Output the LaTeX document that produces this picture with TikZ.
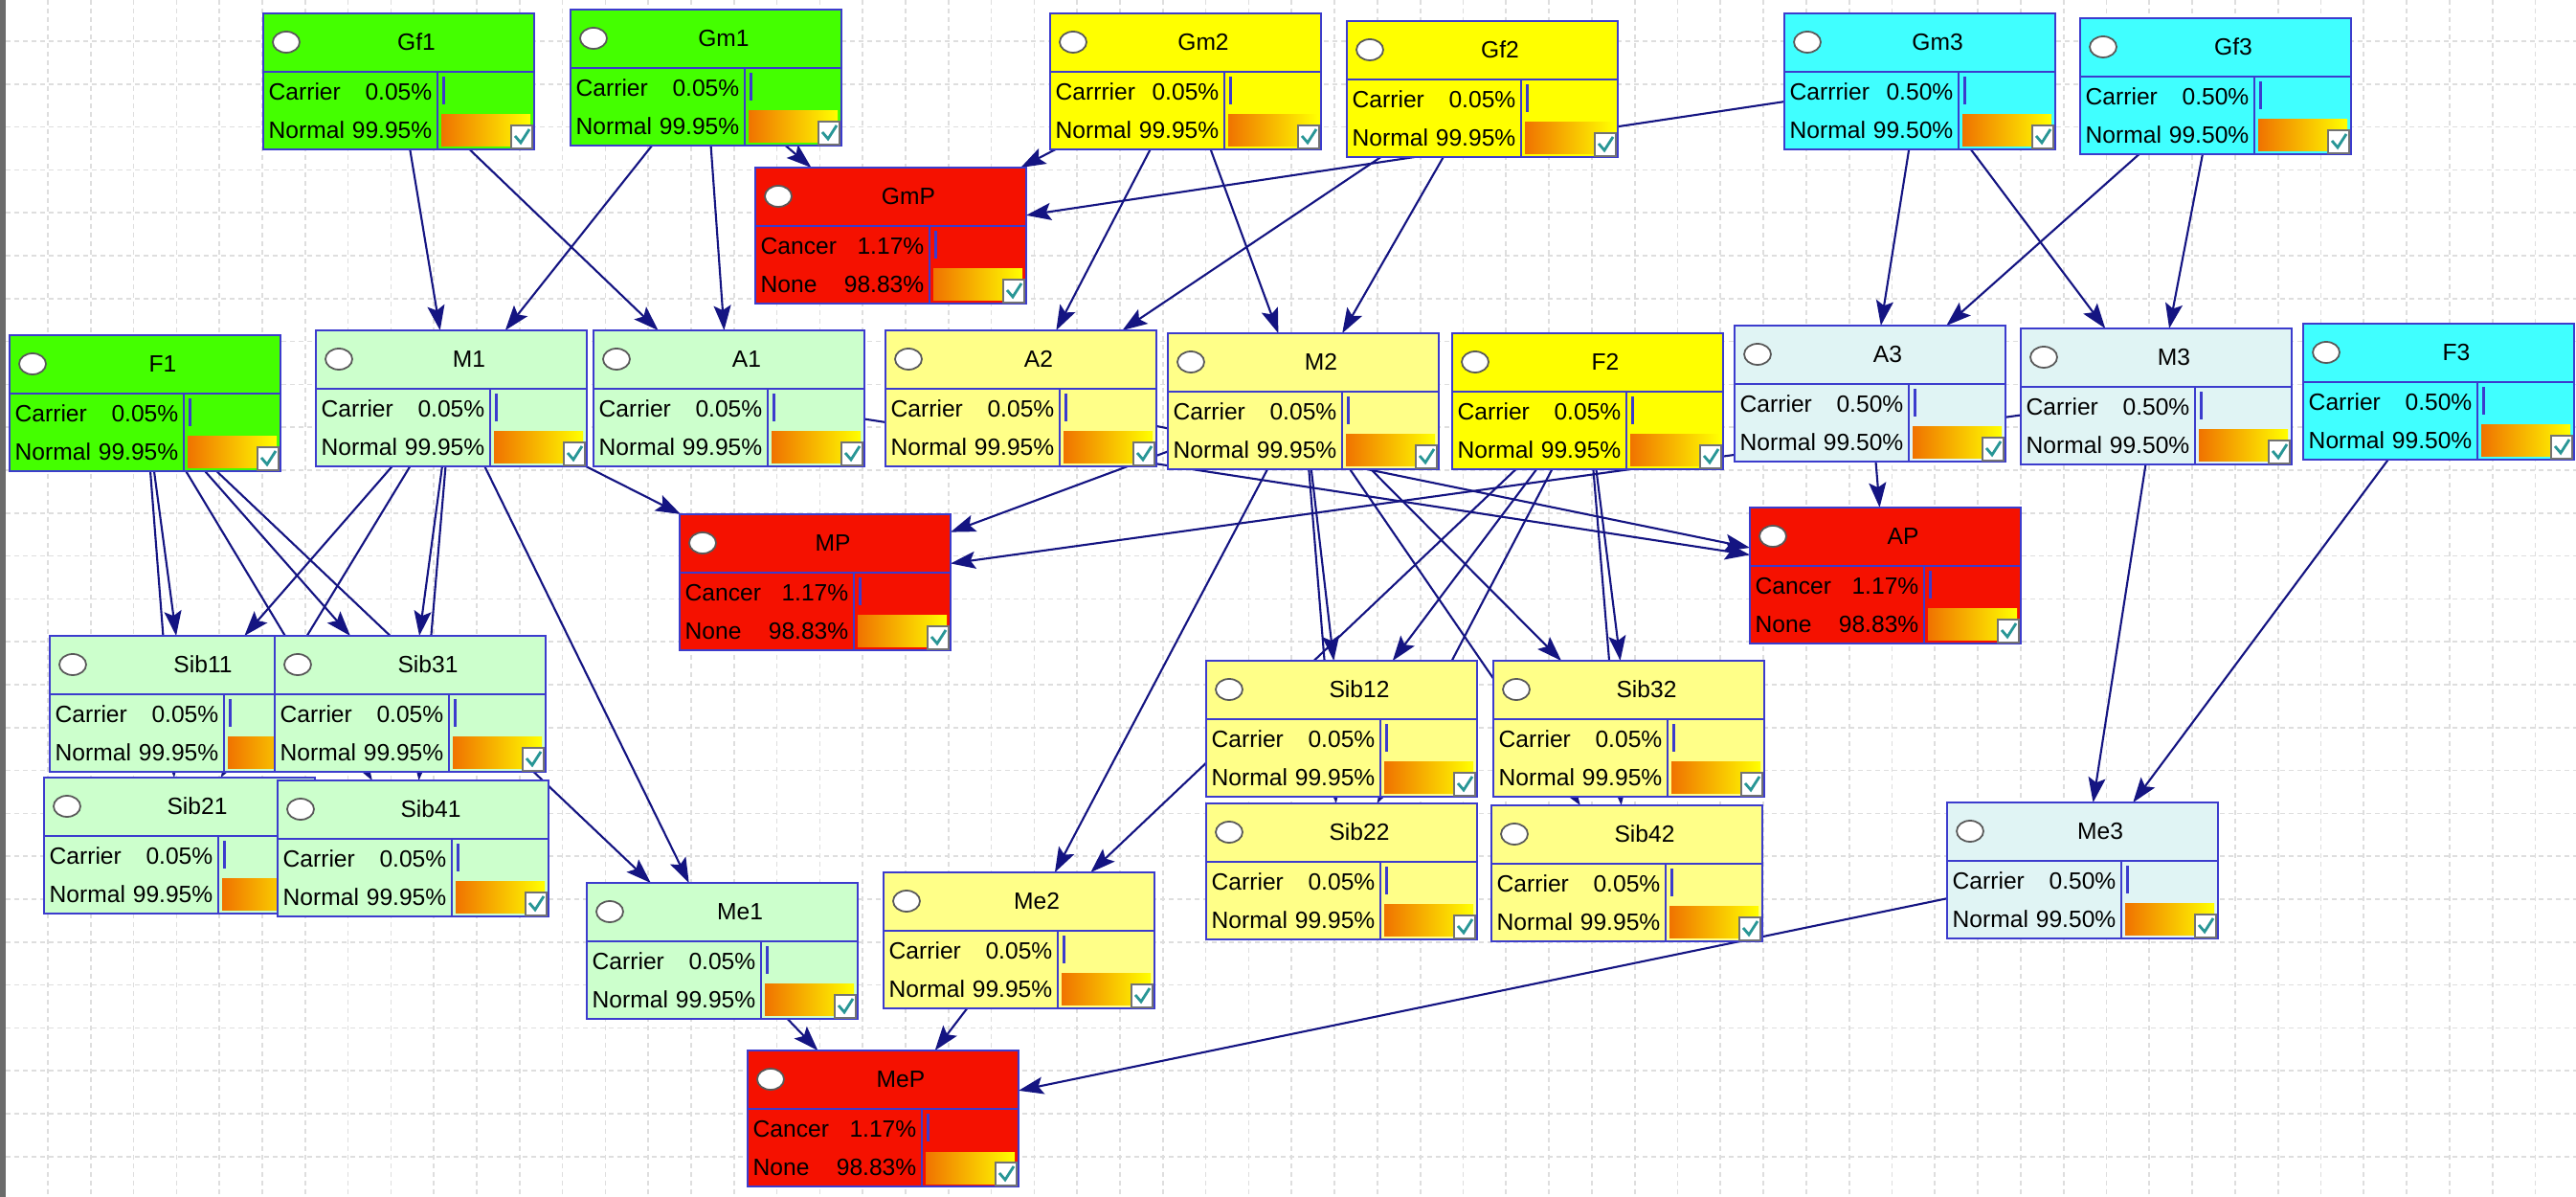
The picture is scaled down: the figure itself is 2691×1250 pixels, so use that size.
\documentclass[tikz,border=0pt]{standalone}
\usepackage{fontspec}
\setmainfont{Liberation Sans}
\usepackage{xcolor}
\usepackage{tikz}
\usetikzlibrary{arrows.meta}
\definecolor{gbright}{RGB}{68,255,0}
\definecolor{glight}{RGB}{204,255,204}
\definecolor{ybright}{RGB}{255,255,0}
\definecolor{ylight}{RGB}{255,255,136}
\definecolor{cbright}{RGB}{64,255,255}
\definecolor{clight}{RGB}{224,244,244}
\definecolor{pheno}{RGB}{245,17,0}
\definecolor{bnblue}{RGB}{60,60,205}
\definecolor{edgeblue}{RGB}{20,20,130}
\definecolor{barorange}{RGB}{240,115,0}
\definecolor{tickteal}{RGB}{40,150,150}
\definecolor{gridgray}{RGB}{222,222,222}
\pgfdeclarelayer{grid}
\pgfdeclarelayer{edges}
\pgfsetlayers{grid,edges,main}
\tikzstyle{bnbox}=[draw=bnblue,line width=0.55pt,rectangle,inner sep=0pt,outer sep=0pt,minimum width=28.3mm,minimum height=14.2mm,anchor=north west]
\tikzstyle{bnline}=[draw=bnblue,line width=0.55pt]
\tikzstyle{bntext}=[inner sep=0pt,font=\fontsize{7}{8}\selectfont]
\tikzstyle{arrow}=[->,draw=edgeblue,fill=edgeblue,line width=0.6pt]
\tikzstyle{gridline}=[gridgray,line width=0.5pt,dash pattern=on 0.5mm off 0.4mm]

% network node: name (also its title), top-left x, y, fill, state 1, value 1, state 2, value 2
\newcommand{\bnnode}[8]{%
  \node[bnbox,fill=#4] (#1) at (#2,#3) {};
  \begin{scope}[shift={(#1.north west)}]
    \draw[bnline] (0,61) -- (283,61);
    \draw[bnline] (182,61) -- (182,142);
    \filldraw[fill=white,draw=black!65,line width=0.5pt] (24,30) ellipse [x radius=1.4mm,y radius=1.1mm];
    \node[bntext] at (160,30) {#1};
    \node[bntext,anchor=west] at (5,82) {#5};
    \node[bntext,anchor=east] at (177,82) {#6};
    \node[bntext,anchor=west] at (5,122) {#7};
    \node[bntext,anchor=east] at (177,122) {#8};
    \fill[bnblue] (186.5,66) rectangle (189.5,95);
    \shade[left color=barorange,right color=ybright] (186,106) rectangle (279,139);
    \filldraw[fill=white,draw=black!55,line width=0.4pt] (259,117) rectangle (281,141);
    \draw[tickteal,line width=0.8pt] (263,128) -- (269,135) -- (278,121);
  \end{scope}
}

\begin{document}
\begin{tikzpicture}[x=0.1mm,y=-0.1mm,>={Stealth[length=2.6mm,width=1.8mm,inset=0.5mm]}]
    \useasboundingbox (0,0) rectangle (2691,1250);
    \begin{pgfonlayer}{grid}
        \fill[white] (0,0) rectangle (2691,1250);
        \foreach \i in {0,...,59} \draw[gridline] ({50+44.8*\i},0) -- ({50+44.8*\i},1250);
        \foreach \j in {0,...,27} \draw[gridline] (6,{43+44.8*\j}) -- (2691,{43+44.8*\j});
        \fill[black!58] (0,0) rectangle (6,1250);
    \end{pgfonlayer}

    % grandparents
    \bnnode{Gf1}{275}{14}{gbright}{Carrier}{0.05\%}{Normal}{99.95\%}
    \bnnode{Gm1}{596}{10}{gbright}{Carrier}{0.05\%}{Normal}{99.95\%}
    \bnnode{Gm2}{1097}{14}{ybright}{Carrrier}{0.05\%}{Normal}{99.95\%}
    \bnnode{Gf2}{1407}{22}{ybright}{Carrier}{0.05\%}{Normal}{99.95\%}
    \bnnode{Gm3}{1864}{14}{cbright}{Carrrier}{0.50\%}{Normal}{99.50\%}
    \bnnode{Gf3}{2173}{19}{cbright}{Carrier}{0.50\%}{Normal}{99.50\%}
    \bnnode{GmP}{789}{175}{pheno}{Cancer}{1.17\%}{None}{98.83\%}

    % parents and aunts
    \bnnode{F1}{10}{350}{gbright}{Carrier}{0.05\%}{Normal}{99.95\%}
    \bnnode{M1}{330}{345}{glight}{Carrier}{0.05\%}{Normal}{99.95\%}
    \bnnode{A1}{620}{345}{glight}{Carrier}{0.05\%}{Normal}{99.95\%}
    \bnnode{A2}{925}{345}{ylight}{Carrier}{0.05\%}{Normal}{99.95\%}
    \bnnode{M2}{1220}{348}{ylight}{Carrier}{0.05\%}{Normal}{99.95\%}
    \bnnode{F2}{1517}{348}{ybright}{Carrier}{0.05\%}{Normal}{99.95\%}
    \bnnode{A3}{1812}{340}{clight}{Carrier}{0.50\%}{Normal}{99.50\%}
    \bnnode{M3}{2111}{343}{clight}{Carrier}{0.50\%}{Normal}{99.50\%}
    \bnnode{F3}{2406}{338}{cbright}{Carrier}{0.50\%}{Normal}{99.50\%}
    \bnnode{MP}{710}{537}{pheno}{Cancer}{1.17\%}{None}{98.83\%}
    \bnnode{AP}{1828}{530}{pheno}{Cancer}{1.17\%}{None}{98.83\%}

    % siblings and self
    \bnnode{Sib11}{52}{664}{glight}{Carrier}{0.05\%}{Normal}{99.95\%}
    \bnnode{Sib31}{287}{664}{glight}{Carrier}{0.05\%}{Normal}{99.95\%}
    \bnnode{Sib21}{46}{812}{glight}{Carrier}{0.05\%}{Normal}{99.95\%}
    \bnnode{Sib41}{290}{815}{glight}{Carrier}{0.05\%}{Normal}{99.95\%}
    \bnnode{Sib12}{1260}{690}{ylight}{Carrier}{0.05\%}{Normal}{99.95\%}
    \bnnode{Sib32}{1560}{690}{ylight}{Carrier}{0.05\%}{Normal}{99.95\%}
    \bnnode{Sib22}{1260}{839}{ylight}{Carrier}{0.05\%}{Normal}{99.95\%}
    \bnnode{Sib42}{1558}{841}{ylight}{Carrier}{0.05\%}{Normal}{99.95\%}
    \bnnode{Me1}{613}{922}{glight}{Carrier}{0.05\%}{Normal}{99.95\%}
    \bnnode{Me2}{923}{911}{ylight}{Carrier}{0.05\%}{Normal}{99.95\%}
    \bnnode{Me3}{2034}{838}{clight}{Carrier}{0.50\%}{Normal}{99.50\%}
    \bnnode{MeP}{781}{1097}{pheno}{Cancer}{1.17\%}{None}{98.83\%}

    \begin{pgfonlayer}{edges}
    \draw[arrow] (Gf1) -- (M1);
    \draw[arrow] (Gf1) -- (A1);
    \draw[arrow] (Gm1) -- (M1);
    \draw[arrow] (Gm1) -- (A1);
    \draw[arrow] (Gm1) -- (GmP);
    \draw[arrow] (Gf2) -- (M2);
    \draw[arrow] (Gf2) -- (A2);
    \draw[arrow] (Gm2) -- (M2);
    \draw[arrow] (Gm2) -- (A2);
    \draw[arrow] (Gm2) -- (GmP);
    \draw[arrow] (Gf3) -- (M3);
    \draw[arrow] (Gf3) -- (A3);
    \draw[arrow] (Gm3) -- (M3);
    \draw[arrow] (Gm3) -- (A3);
    \draw[arrow] (Gm3) -- (GmP);

    \draw[arrow] (M1) -- (MP);
    \draw[arrow] (M2) -- (MP);
    \draw[arrow] (M3) -- (MP);
    \draw[arrow] (A1) -- (AP);
    \draw[arrow] (A2) -- (AP);
    \draw[arrow] (A3) -- (AP);

    \draw[arrow] (F1) -- (Sib11);
    \draw[arrow] (F1) -- (Sib21);
    \draw[arrow] (F1) -- (Sib31);
    \draw[arrow] (F1) -- (Sib41);
    \draw[arrow] (F1) -- (Me1);
    \draw[arrow] (M1) -- (Sib11);
    \draw[arrow] (M1) -- (Sib21);
    \draw[arrow] (M1) -- (Sib31);
    \draw[arrow] (M1) -- (Sib41);
    \draw[arrow] (M1) -- (Me1);
    \draw[arrow] (F2) -- (Sib12);
    \draw[arrow] (F2) -- (Sib22);
    \draw[arrow] (F2) -- (Sib32);
    \draw[arrow] (F2) -- (Sib42);
    \draw[arrow] (F2) -- (Me2);
    \draw[arrow] (M2) -- (Sib12);
    \draw[arrow] (M2) -- (Sib22);
    \draw[arrow] (M2) -- (Sib32);
    \draw[arrow] (M2) -- (Sib42);
    \draw[arrow] (M2) -- (Me2);
    \draw[arrow] (F3) -- (Me3);
    \draw[arrow] (M3) -- (Me3);

    \draw[arrow] (Me1) -- (MeP);
    \draw[arrow] (Me2) -- (MeP);
    \draw[arrow] (Me3) -- (MeP);
    \end{pgfonlayer}
\end{tikzpicture}
\end{document}
